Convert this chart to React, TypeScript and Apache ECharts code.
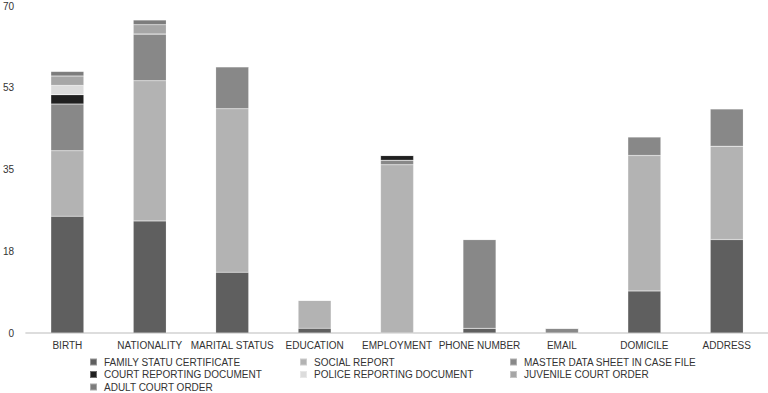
import React, { useEffect, useRef } from "react";
import * as echarts from "echarts";

const categories = ["BIRTH", "NATIONALITY", "MARITAL STATUS", "EDUCATION", "EMPLOYMENT", "PHONE NUMBER", "EMAIL", "DOMICILE", "ADDRESS"];

const familyStatu = [25, 24, 13, 1, 0, 1, 0, 9, 20];
const socialReport = [14, 30, 35, 6, 36, 0, 0, 29, 20];
const masterData = [10, 10, 9, 0, 1, 19, 1, 4, 8];
const courtReporting = [2, 0, 0, 0, 1, 0, 0, 0, 0];
const policeReporting = [2, 0, 0, 0, 0, 0, 0, 0, 0];
const juvenileCourt = [2, 2, 0, 0, 0, 0, 0, 0, 0];
const adultCourt = [1, 1, 0, 0, 0, 0, 0, 0, 0];

const yTicks = [0, 17.5, 35, 52.5, 70];

const seriesDefs = [
  { name: "FAMILY STATU CERTIFICATE", data: familyStatu, color: "#5f5f5f" },
  { name: "SOCIAL REPORT", data: socialReport, color: "#b3b3b3" },
  { name: "MASTER DATA SHEET IN CASE FILE", data: masterData, color: "#888888" },
  { name: "COURT REPORTING DOCUMENT", data: courtReporting, color: "#202020" },
  { name: "POLICE REPORTING DOCUMENT", data: policeReporting, color: "#dcdcdc" },
  { name: "JUVENILE COURT ORDER", data: juvenileCourt, color: "#a6a6a6" },
  { name: "ADULT COURT ORDER", data: adultCourt, color: "#7c7c7c" },
];

export default function App() {
  const ref = useRef<HTMLDivElement>(null);
  useEffect(() => {
    document.body.style.margin = "0";
    const chart = echarts.init(ref.current!, null, { renderer: "svg" });
    const font = "'Liberation Sans', Arial, Helvetica, sans-serif";
    const legendBase = {
      orient: "vertical",
      itemWidth: 7,
      itemHeight: 7,
      itemGap: 2.5,
      icon: "rect",
      textStyle: { fontSize: 10, lineHeight: 10, color: "#333", fontFamily: font, padding: [0, 0, 0, 2] },
      selectedMode: false,
      padding: 0,
    };
    chart.setOption({
      animation: false,
      textStyle: { fontFamily: font },
      grid: { left: 22, right: 0, top: 6, bottom: 60 },
      legend: [
        { ...legendBase, left: 89, top: 357, data: [seriesDefs[0].name, seriesDefs[3].name, seriesDefs[6].name] },
        { ...legendBase, left: 299, top: 357, data: [seriesDefs[1].name, seriesDefs[4].name] },
        { ...legendBase, left: 509, top: 357, data: [seriesDefs[2].name, seriesDefs[5].name] },
      ],
      xAxis: {
        type: "category",
        data: categories,
        axisLine: { lineStyle: { color: "#dddddd", width: 2 } },
        axisTick: { show: false },
        axisLabel: { fontSize: 10, color: "#333", interval: 0, margin: 7, fontFamily: font },
      },
      yAxis: {
        type: "value",
        min: 0,
        max: 70,
        interval: 17.5,
        splitLine: { show: false },
        axisLine: { show: false },
        axisTick: { show: false },
        axisLabel: {
          fontSize: 10,
          color: "#333",
          margin: 12,
          fontFamily: font,
          formatter: (v: number) => (yTicks.includes(v) ? String(Math.round(v)) : ""),
        },
      },
      series: seriesDefs.map((s) => ({
        name: s.name,
        type: "bar",
        stack: "total",
        barWidth: 33,
        data: s.data,
        itemStyle: { color: s.color, borderColor: "rgba(255,255,255,0.35)", borderWidth: 0.5 },
      })),
    });
    return () => chart.dispose();
  }, []);
  return <div ref={ref} style={{ position: "absolute", left: 0, top: 0, width: 768, height: 393 }} />;
}
